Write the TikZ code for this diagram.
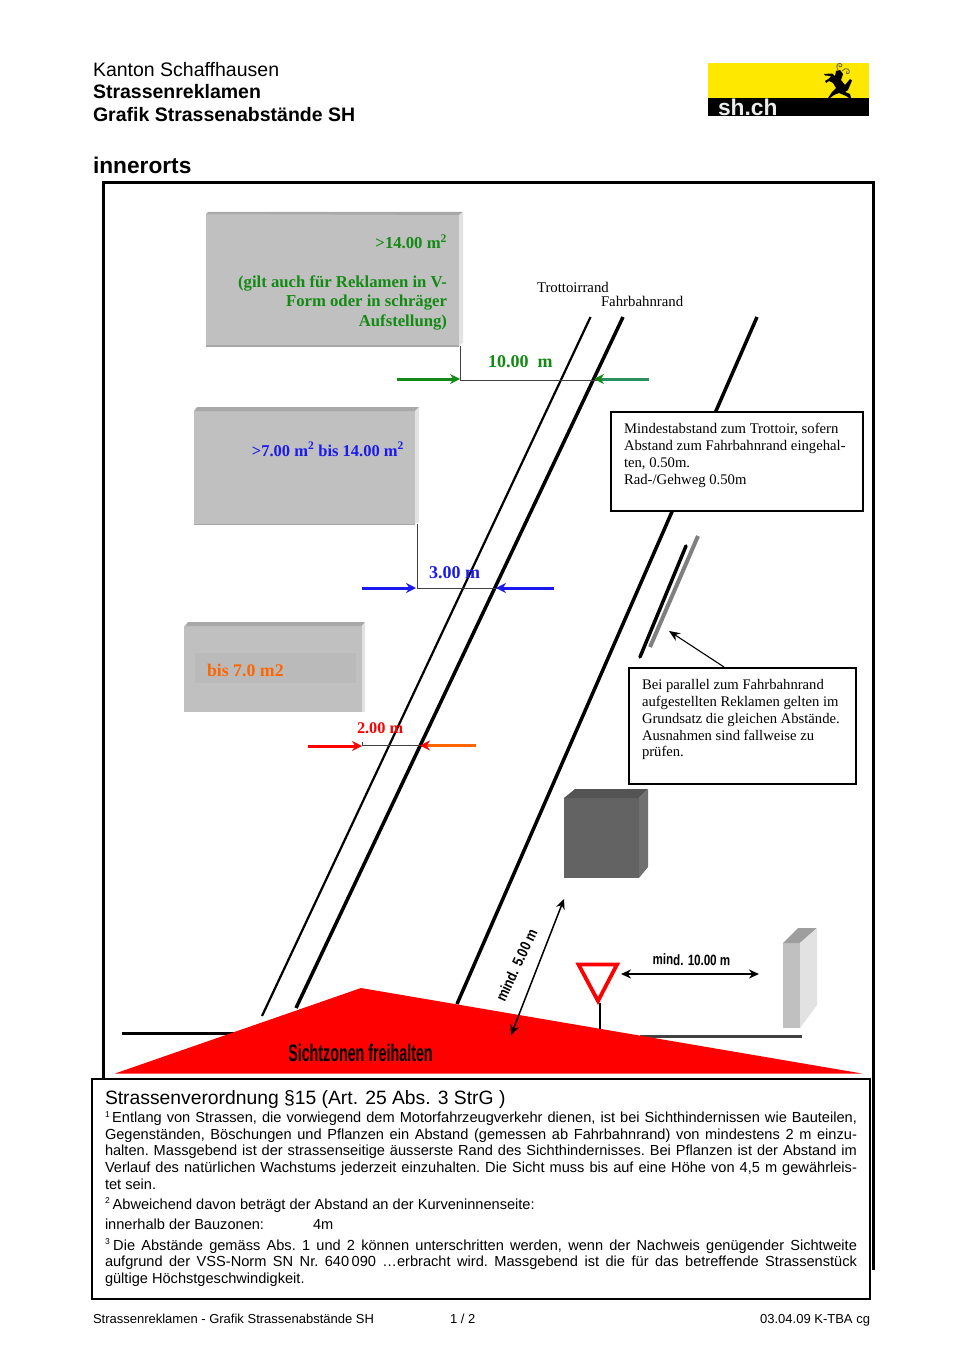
\documentclass[tikz,border=0pt]{standalone}
\usepackage{fontspec}
\setmainfont{Liberation Sans}
\newfontfamily\serifface{Liberation Serif}
\usetikzlibrary{arrows.meta}
\definecolor{signface}{HTML}{C0C0C0}
\definecolor{signtop}{HTML}{A8A8A8}
\definecolor{signside}{HTML}{E2E2E2}
\definecolor{mygreen}{HTML}{138A13}
\definecolor{myteal}{HTML}{2A9060}
\definecolor{myblue}{HTML}{1A1AF0}
\definecolor{myorange}{HTML}{FF6600}
\definecolor{logoyellow}{HTML}{FFE800}
\newcommand{\fs}[2]{\fontsize{#1}{#2}\selectfont}
\tikzset{
  plain/.style={inner sep=0pt,outer sep=0pt},
  head/.style={plain,anchor=base west,font=\fs{19.5}{23}},
  headb/.style={plain,anchor=base west,font=\fs{19.5}{23}\bfseries},
  notetext/.style={plain,anchor=north west,align=left,font=\serifface\fs{14.7}{16.9}},
  signtext/.style={plain,font=\serifface\bfseries},
  para/.style={plain,anchor=north west,text width=752pt,align=justify,font=\frenchspacing\fs{14.6}{16.65}},
  body/.style={plain,anchor=base west,font=\fs{14.6}{16.65}},
  foot/.style={plain,anchor=base,font=\fs{13}{15}},
  road/.style={line width=3.5pt,black},
  dim/.style={line width=1pt,black!75},
  colarrow/.style={line width=3pt,-{Stealth[length=10pt,width=10pt]}},
  noteframe/.style={plain,draw=black,line width=2pt,fill=white,anchor=north west},
  bothdim/.style={line width=1.5pt,black,{Stealth[length=10pt,width=9pt]}-{Stealth[length=10pt,width=9pt]}},
  frameline/.style={line width=3pt,black}
}
\begin{document}
\begin{tikzpicture}[x=1pt,y=-1pt]
\useasboundingbox (0,0) rectangle (970,1372);
\fill[white] (0,0) rectangle (970,1372);

% header
\node[head] (h1) at (93,77) {Kanton Schaffhausen};
\node[headb] (h2) at (93,99) {Strassenreklamen};
\node[headb] (h3) at (93,121.5) {Grafik Strassenabstände SH};
\node[plain,anchor=base west,font=\fs{22.7}{26}\bfseries] (h4) at (93,174) {innerorts};

% logo
\fill[logoyellow] (708,63) rectangle (869,98);
\fill[black] (708,98) rectangle (869,116);
\node[plain,anchor=base west,font=\fs{22.8}{24}\bfseries,text=white!92!black] (logotext) at (718,115.5) {sh.ch};
\fill[black] (824,74) -- (832,73.5) -- (835,76) -- (836,71) -- (840,70) -- (843,74) -- (841,80)
  -- (845,85) -- (850,79) -- (852,80.5) -- (848,90) -- (845,92) -- (850,94) -- (851,98) -- (849,98)
  -- (846,96) -- (839,93) -- (834,95) -- (830,98) -- (828,98) -- (832,92) -- (836,88) -- (833,83)
  -- (829,81) -- (826,83) -- (825,81) -- (829,78.5) -- (831,76) -- (825,75.5) -- cycle;
\draw[black!70!yellow,line width=.8pt] (838,70) .. controls (834,63) and (841,62) .. (842,65)
  .. controls (842,68) and (838,67) .. (839,65);
\draw[black!70!yellow,line width=.8pt] (842,71) .. controls (846,66) and (851,70) .. (849,73)
  .. controls (847,75) and (845,72) .. (847,71);

% outer frame
\draw[frameline] (103,1078) -- (103,183) -- (873,183) -- (873,1270);

% sign 1
\fill[signface] (206,214) rectangle (459,346);
\fill[signtop] (206,214) -- (208,212) -- (463,212) -- (459,215) -- cycle;
\fill[signside] (459,215) -- (463,212) -- (463,342) -- (459,346) -- cycle;
\fill[signtop] (206,345) rectangle (459,347);
% sign 2
\fill[signface] (194,411) rectangle (415,524);
\fill[signtop] (194,411) -- (197,407) -- (419,407) -- (415,411) -- cycle;
\fill[signside] (415,411) -- (419,407) -- (419,522) -- (415,524) -- cycle;
\fill[signtop] (194,523.5) rectangle (415,525);
% sign 3
\fill[signface] (184,626) rectangle (362,712);
\fill[signtop] (185,626) -- (188,622) -- (365,622) -- (362,626) -- cycle;
\fill[signside] (362,626) -- (365,622) -- (365,712) -- (362,712) -- cycle;
\fill[black!27] (195,653) rectangle (356,683);

\node[signtext,anchor=north east,align=right,text=mygreen,font=\serifface\bfseries\fs{16.7}{19.4}] (s1) at (447,234.5)
  {>14.00 m\textsuperscript{2}\\[0pt] \\(gilt auch für Reklamen in V-\\Form oder in schräger\\Aufstellung)};
\node[signtext,anchor=base east,text=myblue,font=\serifface\bfseries\fs{16.5}{19}] (s2) at (404,456) {>7.00 m\textsuperscript{2} bis 14.00 m\textsuperscript{2}};
\node[signtext,anchor=base west,text=myorange,font=\serifface\bfseries\fs{17.8}{20}] (s3) at (207,676) {bis 7.0 m2};

% road lines
\coordinate (tr1) at (590.5,317); \coordinate (tr2) at (262,1016);
\coordinate (fa1) at (623,317); \coordinate (fa2) at (296,1008);
\coordinate (re1) at (757,317); \coordinate (re2) at (457,1004);
\draw[line width=2.2pt,black] (tr1) -- (tr2);
\draw[road] (fa1) -- (fa2);
\draw[road] (re1) -- (re2);

% road labels
\node[plain,anchor=base west,font=\serifface\fs{14.8}{17}] (lt) at (537,292) {Trottoirrand};
\node[plain,anchor=base west,font=\serifface\fs{14.8}{17}] (lf) at (601,306) {Fahrbahnrand};

% dimension lines
\coordinate (a1) at (460,346); \coordinate (a2) at (460,380); \coordinate (a3) at (597,380);
\draw[dim] (a1) -- (a2) -- (a3);
\coordinate (b1) at (417,524); \coordinate (b2) at (417,588); \coordinate (b3) at (497,588);
\draw[dim] (b1) -- (b2) -- (b3);
\coordinate (c1) at (362,742); \coordinate (c2) at (362,745.5); \coordinate (c3) at (420,745.5);
\draw[dim] (c1) -- (c2) -- (c3);

\coordinate (ga) at (397,379); \coordinate (gb) at (460,379); \coordinate (gc) at (649,379); \coordinate (gd) at (594,379);
\draw[colarrow,mygreen] (ga) -- (gb);
\draw[colarrow,myteal,-{Stealth[length=10pt,width=10pt,color=mygreen]}] (gc) -- (gd);
\coordinate (ba) at (362,588); \coordinate (bb) at (416,588); \coordinate (bc) at (554,588); \coordinate (bd) at (496,588);
\draw[colarrow,myblue] (ba) -- (bb);
\draw[colarrow,myblue] (bc) -- (bd);
\coordinate (ra) at (308,746); \coordinate (rb) at (362,746); \coordinate (rc) at (476,745.5); \coordinate (rd) at (420,745.5);
\draw[colarrow,red] (ra) -- (rb);
\draw[colarrow,myorange,-{Stealth[length=10pt,width=10pt,color=red]}] (rc) -- (rd);

\node[signtext,anchor=base west,text=mygreen,font=\serifface\bfseries\fs{18}{20}] (d1) at (488,367) {10.00\ \ m};
\node[signtext,anchor=base west,text=myblue,font=\serifface\bfseries\fs{18}{20}] (d2) at (429,578) {3.00 m};
\node[signtext,anchor=base west,text=red,font=\serifface\bfseries\fs{16.3}{20}] (d3) at (357,733) {2.00 m};

% note 1
\node[noteframe,minimum width=252pt,minimum height=99pt] (n1) at (611,412) {};
\node[notetext] (n1text) at (624,423)
  {Mindestabstand zum Trottoir, sofern\\Abstand zum Fahrbahnrand eingehal-\\ten, 0.50m.\\Rad-/Gehweg 0.50m};

% parallel sign
\coordinate (p1) at (640,657); \coordinate (p2) at (686,546);
\coordinate (p3) at (650,647); \coordinate (p4) at (698,536);
\draw[line width=3.5pt,black,line cap=round] (p1) -- (p2);
\draw[line width=4pt,black!50] (p3) -- (p4);

% note 2
\node[noteframe,minimum width=227pt,minimum height=116pt] (n2) at (629,668) {};
\node[notetext,font=\serifface\fs{14.65}{16.8}] (n2text) at (642,679.5)
  {Bei parallel zum Fahrbahnrand\\aufgestellten Reklamen gelten im\\Grundsatz die gleichen Abstände.\\Ausnahmen sind fallweise zu\\prüfen.};
\coordinate (na) at (724,667); \coordinate (nb) at (669,631);
\draw[line width=1.1pt,black,-{Stealth[length=11pt,width=9pt]}] (na) -- (nb);

% dark cube
\fill[black!61] (564,798) rectangle (639,878);
\fill[black!67] (564,798) -- (575,789) -- (648,789) -- (639,798) -- cycle;
\fill[black!56] (639,798) -- (648,789) -- (648,867) -- (639,878) -- cycle;

% light pillar
\fill[signface] (783,943) rectangle (800,1028);
\fill[black!38] (783,943) -- (798,928) -- (817,928) -- (800,943) -- cycle;
\fill[signside] (800,943) -- (817,928) -- (817,1005) -- (800,1028) -- cycle;

% ground lines
\coordinate (g1) at (122,1033.5); \coordinate (g2) at (245,1033.5);
\coordinate (g3) at (640,1036); \coordinate (g4) at (802,1036);
\draw[line width=3pt,black] (g1) -- (g2);
\draw[line width=3pt,black!75] (g3) -- (g4);

% sight zone
\fill[red] (115,1073.5) -- (361,988) -- (862,1073.5) -- cycle;
\node[plain,anchor=base,font=\fs{24}{26}\bfseries] (sz) at (360.5,1061) {\scalebox{0.595}[1]{Sichtzonen freihalten}};

% yield sign
\coordinate (y1) at (599.5,1003); \coordinate (y2) at (599.5,1029);
\draw[line width=2pt,black] (y1) -- (y2);
\draw[line width=3.8pt,red,fill=white,line join=miter] (578.5,964.5) -- (617,964.5) -- (598,1001) -- cycle;

% dimensions
\coordinate (m1) at (621,974); \coordinate (m2) at (759,974);
\draw[bothdim] (m1) -- (m2);
\coordinate (k1) at (511,1035); \coordinate (k2) at (564,899);
\draw[bothdim] (k1) -- (k2);
\node[plain,rotate=-1,font=\fs{15}{17}\bfseries] (ml) at (691.5,960) {\scalebox{0.77}[1]{mind. 10.00 m}};
\node[plain,rotate=65,font=\fs{15}{17}\bfseries] (kl) at (516.5,965) {\scalebox{0.85}[1]{mind. 5.00 m}};

% law box
\node[noteframe,minimum width=778pt,minimum height=220pt] (law) at (92,1078.5) {};
\node[plain,anchor=base west,font=\fs{19.3}{22}] (lawh) at (105,1104) {Strassenverordnung §15 (Art. 25 Abs. 3 StrG )};
\node[para] (p1t) at (105,1111.5) {\textsuperscript{\fs{8.5}{9}1}\kern2pt Entlang von Strassen, die vorwiegend dem Motorfahrzeugverkehr dienen, ist bei Sichthindernissen wie Bauteilen,\linebreak Gegenständen, Böschungen und Pflanzen ein Abstand (gemessen ab Fahrbahnrand) von mindestens 2 m einzu-\linebreak halten. Massgebend ist der strassenseitige äusserste Rand des Sichthindernisses. Bei Pflanzen ist der Abstand im\linebreak Verlauf des natürlichen Wachstums jederzeit einzuhalten. Die Sicht muss bis auf eine Höhe von 4,5 m gewährleis-\linebreak tet sein.};
\node[body] (p2t) at (105,1209) {\textsuperscript{\fs{8.5}{9}2}\,Abweichend davon beträgt der Abstand an der Kurveninnenseite:};
\node[body] (p2a) at (105,1229) {innerhalb der Bauzonen:};
\node[body] (p2b) at (313,1229) {4m};
\node[para] (p3t) at (105,1239) {\textsuperscript{\fs{8.5}{9}3}\kern3pt Die Abstände gemäss Abs. 1 und 2 können unterschritten werden, wenn der Nachweis genügender Sichtweite\linebreak aufgrund der VSS-Norm SN Nr. 640\,090 …erbracht wird. Massgebend ist die für das betreffende Strassenstück\linebreak gültige Höchstgeschwindigkeit.};

% footer
\node[foot,anchor=base west] (f1) at (93,1323) {Strassenreklamen - Grafik Strassenabstände SH};
\node[foot,anchor=base west] (f2) at (450,1323) {1 / 2};
\node[foot,anchor=base east] (f3) at (870,1323) {03.04.09 K-TBA cg};
\end{tikzpicture}
\end{document}
